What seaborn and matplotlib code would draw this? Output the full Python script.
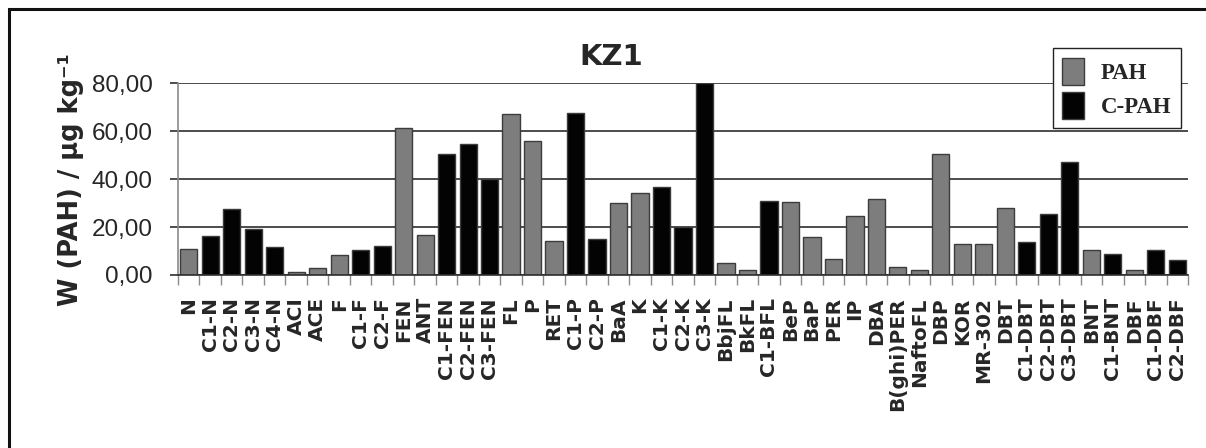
import matplotlib
matplotlib.use("Agg")
import matplotlib.pyplot as plt
from matplotlib.patches import Rectangle
from matplotlib.ticker import FixedLocator, FuncFormatter
import seaborn as sns
import pandas as pd

# compounds along the x axis
compounds = ['N', 'C1-N', 'C2-N', 'C3-N', 'C4-N', 'ACI', 'ACE', 'F', 'C1-F', 'C2-F',
             'FEN', 'ANT', 'C1-FEN', 'C2-FEN', 'C3-FEN', 'FL', 'P', 'RET', 'C1-P', 'C2-P',
             'BaA', 'K', 'C1-K', 'C2-K', 'C3-K', 'BbjFL', 'BkFL', 'C1-BFL', 'BeP', 'BaP',
             'PER', 'IP', 'DBA', 'B(ghi)PER', 'NaftoFL', 'DBP', 'KOR', 'MR-302', 'DBT',
             'C1-DBT', 'C2-DBT', 'C3-DBT', 'BNT', 'C1-BNT', 'DBF', 'C1-DBF', 'C2-DBF']

# W (PAH) / ug kg-1
values = [10.7, 16.2, 27.4, 19.3, 11.7, 1.1, 2.8, 8.2, 10.3, 12.2,
          61.1, 16.7, 50.5, 54.6, 40.0, 67.1, 56.0, 14.2, 67.6, 14.9,
          29.9, 34.0, 36.8, 20.1, 80.0, 5.0, 2.1, 30.8, 30.4, 15.7,
          6.7, 24.7, 31.8, 3.2, 2.1, 50.5, 13.0, 13.0, 27.8,
          13.7, 25.3, 47.0, 10.3, 8.6, 2.2, 10.3, 6.2]

# parent PAH or alkylated C-PAH
groups = ['PAH', 'C-PAH', 'C-PAH', 'C-PAH', 'C-PAH', 'PAH', 'PAH', 'PAH', 'C-PAH', 'C-PAH',
          'PAH', 'PAH', 'C-PAH', 'C-PAH', 'C-PAH', 'PAH', 'PAH', 'PAH', 'C-PAH', 'C-PAH',
          'PAH', 'PAH', 'C-PAH', 'C-PAH', 'C-PAH', 'PAH', 'PAH', 'C-PAH', 'PAH', 'PAH',
          'PAH', 'PAH', 'PAH', 'PAH', 'PAH', 'PAH', 'PAH', 'PAH', 'PAH',
          'C-PAH', 'C-PAH', 'C-PAH', 'PAH', 'C-PAH', 'PAH', 'C-PAH', 'C-PAH']

yticks = [0, 20, 40, 60, 80]

df = pd.DataFrame({'compound': compounds, 'value': values, 'type': groups})

sns.set_style('white')
plt.rcParams['font.family'] = ['DejaVu Sans']

fig = plt.figure(figsize=(12.06, 4.48), dpi=100)
ax = fig.add_axes([178 / 1206, 1 - 275 / 448, (1188 - 178) / 1206, 192 / 448])

sns.barplot(data=df, x='compound', y='value', hue='type', order=compounds,
            hue_order=['PAH', 'C-PAH'], dodge=False, width=0.8,
            palette={'PAH': '#7d7d7d', 'C-PAH': '#030303'},
            edgecolor='#3c3c3c', linewidth=1.0, ax=ax)

ax.set_xlim(-0.5, len(compounds) - 0.5)
ax.set_ylim(0, 80)
ax.set_xlabel('')
ax.set_ylabel('')

# grid
ax.set_axisbelow(True)
ax.yaxis.grid(True, color='#2e2e2e', linewidth=1.2)
ax.xaxis.grid(False)

# spines
for s in ['top', 'right']:
    ax.spines[s].set_visible(False)
ax.spines['left'].set_color('#8a8a8a')
ax.spines['left'].set_linewidth(1.2)
ax.spines['bottom'].set_color('#2e2e2e')
ax.spines['bottom'].set_linewidth(1.2)

# y ticks
ax.set_yticks(yticks)
ax.yaxis.set_major_formatter(FuncFormatter(lambda v, p: f'{v:.2f}'.replace('.', ',')))
ax.tick_params(axis='y', which='major', length=6, width=1.2, color='#2e2e2e', pad=12,
               labelsize=17.5, left=True)
for lab in ax.get_yticklabels():
    lab.set_family('Liberation Sans')

# x ticks: labels at centres, tick marks at boundaries
ax.set_xticks(range(len(compounds)))
ax.set_xticklabels(compounds, rotation=90, fontweight='bold', fontsize=14.5)
ax.xaxis.set_minor_locator(FixedLocator([i - 0.5 for i in range(len(compounds) + 1)]))
ax.tick_params(axis='x', which='major', length=0, pad=16, bottom=True)
ax.tick_params(axis='x', which='minor', length=7.5, width=1.0, color='#8a8a8a', bottom=True)
for lab in ax.get_xticklabels():
    lab.set_va('top')

# legend
handles, labels = ax.get_legend_handles_labels()
leg = ax.legend(handles, labels, loc='upper right', bbox_to_anchor=(1192 / 1206, 1 - 37 / 448),
                bbox_transform=fig.transFigure, frameon=True, fancybox=False,
                handlelength=0.95, handleheight=1.45, handletextpad=0.75, labelspacing=0.3,
                borderpad=0.4, prop={'family': 'Liberation Serif', 'weight': 'bold', 'size': 16.5})
leg.get_frame().set_edgecolor('#222222')
leg.get_frame().set_linewidth(1.0)
leg.get_frame().set_alpha(1)

# title and y label
fig.text(611 / 1206, 1 - 57 / 448, 'KZ1', ha='center', va='center',
         fontsize=21, fontweight='bold', family='DejaVu Sans')
fig.text(71 / 1206, 1 - 180 / 448, 'W (PAH) / μg kg⁻¹', rotation=90,
         ha='center', va='center', fontsize=18.5, fontweight='bold')

# outer frame
fig.add_artist(Rectangle((9 / 1206, -0.2), 1.2, 1.2 - 9 / 448, transform=fig.transFigure,
                         fill=False, edgecolor='#111111', linewidth=2.2, clip_on=False))

fig.savefig('out.png', dpi=100)
